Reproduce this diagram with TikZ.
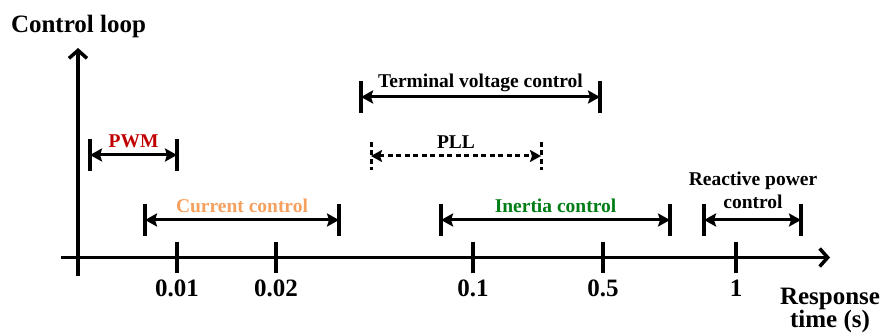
\documentclass[tikz,border=0pt]{standalone}
\usepackage{fontspec}
\setmainfont{Liberation Serif}
\usetikzlibrary{arrows.meta}
\definecolor{pwmred}{RGB}{192,0,0}
\definecolor{curorange}{RGB}{245,160,95}
\definecolor{inertgreen}{RGB}{0,125,20}
\tikzset{
  axisline/.style={line width=3.5pt,-{Straight Barb[length=8pt,width=18pt]}},
  tickmark/.style={line width=3.5pt},
  endbar/.style={line width=3.5pt},
  spanline/.style={line width=3pt,{Stealth[length=12pt,width=13pt,inset=2pt]}-{Stealth[length=12pt,width=13pt,inset=2pt]}},
  dashbar/.style={line width=3pt,dash pattern=on 5pt off 3.5pt},
  dashspan/.style={line width=3pt,dash pattern=on 5pt off 3.5pt,{Stealth[length=11pt,width=12pt,inset=2pt]}-{Stealth[length=11pt,width=12pt,inset=2pt]}},
  bigtxt/.style={font=\fontsize{25}{27}\selectfont\bfseries, inner sep=0pt, anchor=base},
  smalltxt/.style={font=\fontsize{19.5}{22}\selectfont\bfseries, inner sep=0pt, anchor=base},
}
\begin{document}
\begin{tikzpicture}[x=1pt,y=-1pt]
\useasboundingbox (0,0) rectangle (882,336);
% axes
\coordinate (vbot) at (78,276);
\coordinate (vtop) at (78,48);
\coordinate (hleft) at (61,257.5);
\coordinate (hright) at (830,257.5);
\draw[axisline] (vbot) -- (vtop);
\draw[axisline] (hleft) -- (hright);
\node[bigtxt] (ylab) at (78.5,33) {Control loop};
\node[bigtxt] (xlab1) at (830,304) {Response};
\node[bigtxt] (xlab2) at (830,327) {time (s)};
% ticks
\foreach \x/\t/\n in {177/0.01/ta,276/0.02/tb,473/0.1/tc,603/0.5/td,736/1/te}{
  \coordinate (\n) at (\x,257.5);
  \draw[tickmark] (\n) ++(0,-15.5) -- ++(0,31);
  \node[bigtxt] (\n lab) at (\x,296) {\t};
}
% PWM
\coordinate (pwmL) at (90,155);
\coordinate (pwmR) at (177,155);
\draw[endbar] (pwmL) ++(0,-16) -- ++(0,32);
\draw[endbar] (pwmR) ++(0,-16) -- ++(0,32);
\draw[spanline] (pwmL) -- (pwmR);
\node[smalltxt,text=pwmred] (pwm) at (133.5,148) {PWM};
% Current control
\coordinate (curL) at (145,220);
\coordinate (curR) at (339,220);
\draw[endbar] (curL) ++(0,-16) -- ++(0,32);
\draw[endbar] (curR) ++(0,-16) -- ++(0,32);
\draw[spanline] (curL) -- (curR);
\node[smalltxt,text=curorange] (cur) at (242,212.5) {Current control};
% Terminal voltage control
\coordinate (tvcL) at (361,97);
\coordinate (tvcR) at (600,97);
\draw[endbar] (tvcL) ++(0,-16) -- ++(0,32);
\draw[endbar] (tvcR) ++(0,-16) -- ++(0,32);
\draw[spanline] (tvcL) -- (tvcR);
\node[smalltxt] (tvc) at (480.5,88) {Terminal voltage control};
% PLL
\coordinate (pllL) at (371,156);
\coordinate (pllR) at (541,156);
\draw[dashbar] (pllL) ++(0,-14) -- ++(0,28);
\draw[dashbar] (pllR) ++(0,-14) -- ++(0,28);
\draw[dashspan] (pllL) -- (pllR);
\node[smalltxt] (pll) at (456,149) {PLL};
% Inertia control
\coordinate (inL) at (441,220);
\coordinate (inR) at (670,220);
\draw[endbar] (inL) ++(0,-16) -- ++(0,32);
\draw[endbar] (inR) ++(0,-16) -- ++(0,32);
\draw[spanline] (inL) -- (inR);
\node[smalltxt,text=inertgreen] (inertia) at (555.5,212.5) {Inertia control};
% Reactive power control
\coordinate (rpL) at (704,220);
\coordinate (rpR) at (801,220);
\draw[endbar] (rpL) ++(0,-16) -- ++(0,32);
\draw[endbar] (rpR) ++(0,-16) -- ++(0,32);
\draw[spanline] (rpL) -- (rpR);
\node[smalltxt] (rp1) at (753,186) {Reactive power};
\node[smalltxt] (rp2) at (753,209) {control};
\end{tikzpicture}
\end{document}
